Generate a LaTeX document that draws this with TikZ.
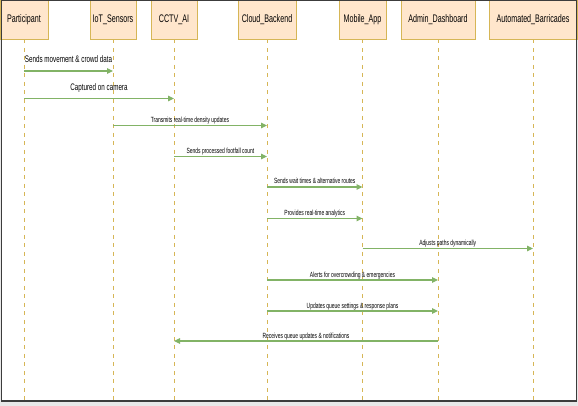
\documentclass[tikz,border=0pt]{standalone}
\usepackage{fontspec}
\setmainfont{Liberation Sans}
\newfontfamily\cajafont[FakeStretch=0.65]{Liberation Sans}
\newfontfamily\msgfont[FakeStretch=0.66]{Liberation Sans}
\usetikzlibrary{arrows.meta}

\definecolor{cajafondo}{HTML}{FFE6CC}
\definecolor{cajaborde}{HTML}{D6B656}
\definecolor{verde}{HTML}{82B366}
\definecolor{marco}{HTML}{3C3C3C}

\begin{document}
\begin{tikzpicture}[
    x=1pt, y=-1pt,
    caja/.style={draw=cajaborde, fill=cajafondo, line width=0.9pt,
      minimum height=39pt, inner sep=0pt, font=\cajafont\fontsize{11}{13}\selectfont},
    vida/.style={draw=cajaborde, line width=0.9pt, dash pattern=on 4pt off 4.5pt},
    mensaje/.style={draw=verde, line width=1.1pt,
      -{Triangle[length=6pt, width=5.5pt]}},
    rotulo/.style={anchor=base, inner sep=0pt, yshift=3pt,
      font=\msgfont\fontsize{7.5}{9}\selectfont},
    rotulogrande/.style={rotulo, yshift=5pt, font=\msgfont\fontsize{9.5}{11}\selectfont}
  ]
  % 1 pt = 1 pixel of the 578 x 406 frame; y grows downwards.
  \fill[black!9] (0,0) rectangle (578,406);
  \fill[white] (1,0) rectangle (576.5,401);
  \useasboundingbox (0,0) rectangle (578,406);

  % --- participantes ---
  \foreach \nm/\xc/\an/\lbl in {part/24/48/Participant, iot/113/46/IoT\_Sensors,
      cctv/174/46/CCTV\_AI, cloud/267/58/Cloud\_Backend, app/362.5/47/Mobile\_App,
      admin/438/74/Admin\_Dashboard, barr/533/88/Automated\_Barricades}{
    \node[caja, minimum width=\an] (\nm) at (\xc,19.5) {\lbl};
  }

  % --- lineas de vida ---
  \coordinate (fondo) at (0,401);
  \foreach \nm in {part, iot, cctv, cloud, app, admin, barr}{
    \draw[vida] (\nm.south) -- (\nm |- fondo);
  }

  % --- mensajes (los dos primeros con rotulo mayor) ---
  \foreach \k/\de/\a/\fy/\txt in {1/part/iot/71/Sends movement \& crowd data,
      2/part/cctv/98.5/Captured on camera}{
    \coordinate (fila\k) at (0,\fy);
    \draw[mensaje] (\de |- fila\k) -- node[rotulogrande] {\txt} (\a |- fila\k);
  }
  \foreach \k/\de/\a/\fy/\txt in {3/iot/cloud/125.5/Transmits real-time density updates,
      4/cctv/cloud/156.5/Sends processed footfall count,
      5/cloud/app/187/Sends wait times \& alternative routes,
      6/cloud/app/218.5/Provides real-time analytics,
      7/app/barr/248.5/Adjusts paths dynamically,
      8/cloud/admin/280/Alerts for overcrowding \& emergencies,
      9/cloud/admin/311/Updates queue settings \& response plans,
      10/admin/cctv/341/Receives queue updates \& notifications}{
    \coordinate (fila\k) at (0,\fy);
    \draw[mensaje] (\de |- fila\k) -- node[rotulo] {\txt} (\a |- fila\k);
  }

  % --- marco ---
  \draw[marco, line width=1.3pt] (1.3,0.5) rectangle (576.5,401);
\end{tikzpicture}
\end{document}
